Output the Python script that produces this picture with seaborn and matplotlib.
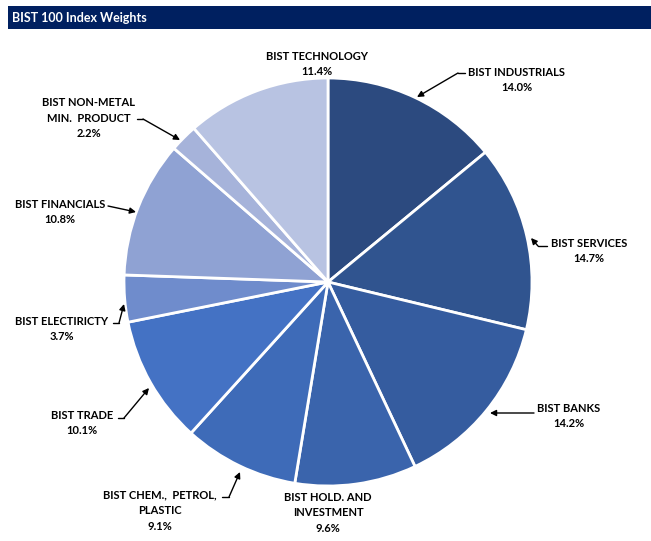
import matplotlib.pyplot as plt
import seaborn as sns
from matplotlib.patches import Rectangle

sectors = [
    "BIST INDUSTRIALS",
    "BIST SERVICES",
    "BIST BANKS",
    "BIST HOLD. AND\nINVESTMENT",
    "BIST CHEM.,  PETROL,\nPLASTIC",
    "BIST TRADE",
    "BIST ELECTIRICTY",
    "BIST FINANCIALS",
    "BIST NON-METAL\nMIN.  PRODUCT",
    "BIST TECHNOLOGY",
]
weights = [14.0, 14.7, 14.2, 9.6, 9.1, 10.1, 3.7, 10.8, 2.2, 11.4]
colors = ["#2C4A7F", "#30548F", "#355C9F", "#3A64AC", "#3E6BB8",
          "#4472C4", "#6F8CCC", "#8FA2D3", "#A6B3DA", "#B8C3E2"]

W, H = 651, 541

# label block centres (pixels, y from top) and arrow paths (start, elbow, tip)
label_pos = [(517, 80), (589, 251), (569, 416), (328, 513), (160, 511),
             (82, 423), (62, 329), (60, 212), (89, 118), (317, 64)]
arrows = [
    ((465, 73), (458, 73), (417, 97)),
    ((547, 246), (538, 246), (531, 238)),
    ((534, 413), (534, 413), (490, 413)),
    None,
    ((222, 497), (229, 497), (240, 472)),
    ((118, 418), (124, 418), (149, 388)),
    ((113, 323), (119, 323), (124, 304)),
    ((108, 206), (108, 206), (136, 212)),
    ((137, 119), (143, 119), (180, 140)),
    None,
]


def px(x, y):
    return x, H - y


sns.set_theme(style="white")
plt.rcParams["font.family"] = ["Lato", "DejaVu Sans"]

fig = plt.figure(figsize=(W / 100, H / 100), dpi=100)
ax = fig.add_axes([0, 0, 1, 1])

ax.pie(weights, colors=colors, startangle=90, counterclock=False,
       center=px(328, 282), radius=204,
       wedgeprops=dict(edgecolor="white", linewidth=2))

ax.set_xlim(0, W)
ax.set_ylim(0, H)
ax.set_aspect("equal")
ax.axis("off")

# title bar
ax.add_patch(Rectangle(px(8, 29), W - 8, 23, facecolor="#002060",
                       edgecolor="none", zorder=3))
ax.text(*px(12, 17.5), "BIST 100 Index Weights", color="white",
        fontsize=9, fontweight="bold", ha="left", va="center", zorder=4)

for name, val, pos, arr in zip(sectors, weights, label_pos, arrows):
    ax.text(*px(*pos), f"{name}\n{val:.1f}%", ha="center", va="center",
            fontsize=8, fontweight="bold", color="black", linespacing=1.55)
    if arr is None:
        continue
    start, elbow, tip = arr
    if start != elbow:
        ax.plot(*zip(px(*start), px(*elbow)), color="black", lw=1)
    ax.annotate("", xy=px(*tip), xytext=px(*elbow),
                arrowprops=dict(arrowstyle="-|>", color="black", lw=1,
                                mutation_scale=9, shrinkA=0, shrinkB=0))

fig.savefig("out.png", dpi=100)
